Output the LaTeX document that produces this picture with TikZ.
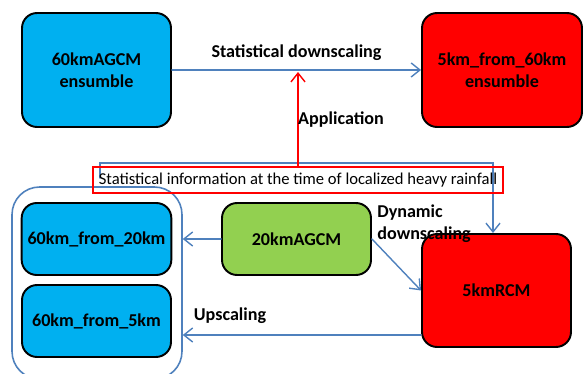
\documentclass[tikz,border=0pt]{standalone}
\usepackage{fontspec}
\setmainfont{Carlito}
\usetikzlibrary{arrows.meta}

\definecolor{boxblue}{HTML}{00B0F0}
\definecolor{boxred}{HTML}{FF0000}
\definecolor{boxgreen}{HTML}{92D050}
\definecolor{linkblue}{HTML}{4F81BD}

\begin{document}
\begin{tikzpicture}[x=0.02cm, y=-0.02cm, cap=round]

    % Styles
    \tikzstyle{model}=[draw=black, line width=1.1pt, rounded corners=0.3cm,
        minimum width=2.98cm, font=\fontsize{10.3}{12.4}\selectfont\bfseries, align=center]
    \tikzstyle{link}=[draw=linkblue, line width=0.8pt, -{Straight Barb[length=5pt, width=8pt]}]
    \tikzstyle{lbl}=[font=\fontsize{10.3}{12.4}\selectfont\bfseries, inner sep=0pt]

    \useasboundingbox (0,0) rectangle (584,374);

    % top row
    \node[model, fill=boxblue, minimum height=2.28cm] (agcm60) at (96.5,70) {60kmAGCM\\ensumble};
    \node[model, fill=boxred, minimum height=2.28cm, minimum width=3.2cm] (ens5) at (502,70) {5km\_from\_60km\\ensumble};

    % group of upscaled results
    \node[draw=linkblue, line width=0.9pt, rounded corners=0.55cm,
        minimum width=3.4cm, minimum height=3.84cm] (group) at (97,283) {};
    \node[model, fill=boxblue, minimum height=1.44cm] (up20) at (96.5,239) {60km\_from\_20km};
    \node[model, fill=boxblue, minimum height=1.44cm] (up5) at (96.5,321) {60km\_from\_5km};

    % middle and bottom right
    \node[model, fill=boxgreen, minimum height=1.44cm] (agcm20) at (296.5,239) {20kmAGCM};
    \node[model, fill=boxred, minimum height=2.26cm] (rcm) at (496.5,290.5) {5kmRCM};

    % statistical information
    \coordinate (infoL) at (100,178);
    \coordinate (turn) at (493,163);
    \draw[draw=linkblue, line width=0.8pt, -{Straight Barb[length=5pt, width=8pt]}]
        (infoL) |- (turn) -- (turn |- rcm.north);
    \node[draw=boxred, line width=1.1pt, minimum width=8.2cm, minimum height=0.52cm,
        font=\fontsize{9.45}{11}\selectfont] (info) at (298,180)
        {Statistical information at the time of localized heavy rainfall};

    % connectors
    \coordinate (sd) at (298,72);
    \draw[link] (agcm60) -- (ens5) node[lbl, midway, above=5pt] (sdlbl) {Statistical downscaling};
    \draw[draw=boxred, line width=0.8pt, -{Straight Barb[length=5pt, width=8pt]}] (info.north) -- (sd);
    \node[lbl] (appl) at (341,120) {Application};
    \draw[link] (agcm20) -- (group.east |- agcm20);
    \draw[link] (agcm20.east) -- (rcm.west);
    \node[lbl, align=left, anchor=west] (dyn) at (377,224) {Dynamic\\downscaling};
    \draw[link] (rcm.west |- 0,335) -- (group.east |- 0,335);
    \node[lbl] (ups) at (230,316) {Upscaling};

\end{tikzpicture}
\end{document}
